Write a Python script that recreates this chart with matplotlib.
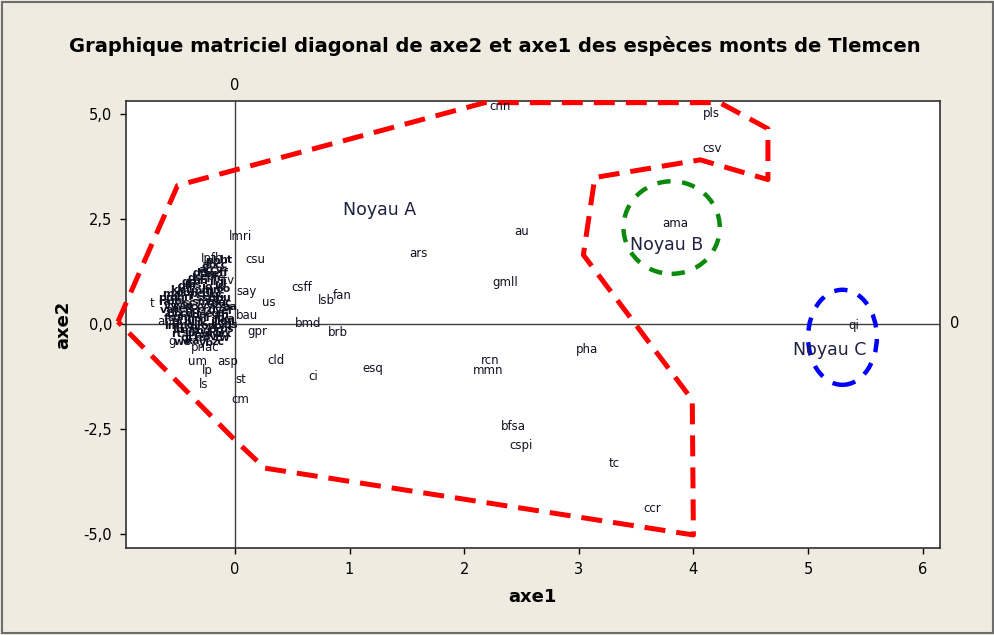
import matplotlib
matplotlib.use("Agg")
import matplotlib.pyplot as plt
from matplotlib.patches import Ellipse, Rectangle

# ---- species scores on the first two axes ----
species = ["cnn", "pls", "csv", "ama", "au", "ars", "gmll", "lmri", "csu",
           "say", "us", "bau", "gpr", "csff", "lsb", "fan", "bmd", "brb",
           "cld", "ci", "esq", "rcn", "mmn", "pha", "bfsa", "cspi", "tc",
           "ccr", "qi", "t", "an", "g", "pnac", "um", "asp", "lp", "ls",
           "st", "cm", "Ipfh", "ctv"]
axe1 = [2.31, 4.16, 4.16, 3.84, 2.50, 1.60, 2.36, 0.05, 0.18,
        0.10, 0.30, 0.11, 0.20, 0.58, 0.80, 0.94, 0.64, 0.90,
        0.36, 0.68, 1.20, 2.23, 2.21, 3.07, 2.43, 2.50, 3.31,
        3.64, 5.40, -0.72, -0.61, -0.55, -0.26, -0.33, -0.06, -0.24, -0.27,
        0.05, 0.05, -0.20, -0.08]
axe2 = [5.17, 5.00, 4.17, 2.38, 2.19, 1.67, 0.98, 2.07, 1.52,
        0.76, 0.50, 0.21, -0.19, 0.86, 0.55, 0.67, 0.02, -0.21,
        -0.88, -1.24, -1.07, -0.86, -1.10, -0.62, -2.43, -2.90, -3.33,
        -4.40, -0.05, 0.48, 0.05, -0.43, -0.57, -0.90, -0.90, -1.10, -1.45,
        -1.33, -1.81, 1.55, 1.02]

# dense group of species near the origin
group_names = ["ph", "ht",
               "ac", "cv",
               "ds", "ep", "fc",
               "gl", "hs", "jo", "lc",
               "ma", "ob", "pc", "pl", "qc",
               "ra", "rs", "sc", "sm", "tp", "uc",
               "va", "ae", "bc", "cr", "dv", "ef",
               "fs", "gm", "hp", "il", "jc", "ka",
               "lm", "mo", "nr", "op", "pr", "qs",
               "rt", "su", "tv", "uw", "vx",
               "we", "xa", "yb", "zc",
               "ab", "cc",
               "dd", "ee", "ff",
               "gg", "hh", "ii", "jj",
               "kk", "ll", "mm", "nn", "oo",
               "pp", "qq", "rr", "ss", "tt", "uu",
               "vv", "ww", "xx", "yy", "zz", "aa",
               "bb", "cd", "de", "eg", "fh",
               "gi", "hj", "ik", "jl", "km",
               "ln", "mp", "nq", "or", "ps",
               "qt", "ru", "sv", "tw"]
group_axe1 = [-0.19, -0.08,
              -0.26, -0.16,
              -0.35, -0.24, -0.14,
              -0.45, -0.35, -0.24, -0.14,
              -0.55, -0.45, -0.34, -0.24, -0.15,
              -0.61, -0.51, -0.40, -0.30, -0.19, -0.09,
              -0.59, -0.49, -0.38, -0.28, -0.17, -0.07,
              -0.57, -0.46, -0.36, -0.25, -0.14, -0.06,
              -0.55, -0.44, -0.34, -0.23, -0.13, -0.04,
              -0.51, -0.40, -0.30, -0.19, -0.09,
              -0.46, -0.36, -0.25, -0.15,
              -0.22, -0.12,
              -0.30, -0.20, -0.10,
              -0.40, -0.30, -0.19, -0.10,
              -0.50, -0.40, -0.29, -0.19, -0.10,
              -0.60, -0.50, -0.40, -0.29, -0.19, -0.10,
              -0.56, -0.45, -0.35, -0.24, -0.13, -0.04,
              -0.53, -0.42, -0.31, -0.20, -0.10,
              -0.50, -0.40, -0.29, -0.18, -0.08,
              -0.50, -0.39, -0.28, -0.17, -0.07,
              -0.42, -0.31, -0.21, -0.11]
group_axe2 = [1.50, 1.52,
              1.29, 1.27,
              1.10, 1.12, 1.08,
              0.90, 0.92, 0.88, 0.90,
              0.71, 0.73, 0.70, 0.72, 0.69,
              0.52, 0.54, 0.50, 0.53, 0.51, 0.49,
              0.33, 0.35, 0.31, 0.34, 0.32, 0.30,
              0.14, 0.16, 0.12, 0.15, 0.13, 0.11,
              -0.05, -0.03, -0.07, -0.04, -0.06, -0.02,
              -0.24, -0.22, -0.26, -0.23, -0.25,
              -0.43, -0.41, -0.45, -0.42,
              1.40, 1.41,
              1.20, 1.19, 1.21,
              1.00, 1.01, 0.99, 1.00,
              0.80, 0.81, 0.79, 0.80, 0.82,
              0.62, 0.61, 0.63, 0.62, 0.60, 0.61,
              0.42, 0.43, 0.41, 0.42, 0.44, 0.40,
              0.23, 0.24, 0.22, 0.23, 0.21,
              0.04, 0.05, 0.03, 0.04, 0.06,
              -0.15, -0.14, -0.16, -0.15, -0.13,
              -0.33, -0.34, -0.32, -0.33]

# ---- group outlines ----
hull_a_x = [-1.02, -0.50, 2.18, 4.23, 4.65, 4.65, 4.06, 3.14, 3.04, 3.99, 4.00, 0.26, 0.00, -1.02]
hull_a_y = [0.05, 3.29, 5.26, 5.26, 4.64, 3.43, 3.90, 3.48, 1.64, -1.81, -5.02, -3.43, -2.76, 0.05]
core_b = {"x": 3.81, "y": 2.29, "w": 0.84, "h": 2.20}
core_c = {"x": 5.30, "y": -0.32, "w": 0.60, "h": 2.26}
core_labels = ["Noyau A", "Noyau B", "Noyau C"]
core_label_x = [1.26, 3.77, 5.19]
core_label_y = [2.70, 1.88, -0.62]

xticks = [0, 1, 2, 3, 4, 5, 6]
yticks = [-5.0, -2.5, 0.0, 2.5, 5.0]
ytick_labels = ["-5,0", "-2,5", "0,0", "2,5", "5,0"]

bg = "#EFEBE0"
fig = plt.figure(figsize=(9.95, 6.35), dpi=100, facecolor=bg)
fig.patches.append(Rectangle((0.002, 0.003), 0.996, 0.994, transform=fig.transFigure,
                             fill=False, edgecolor="#6E6E6E", linewidth=1.5))
ax = fig.add_axes([0.1266, 0.137, 0.818, 0.704])
ax.set_facecolor("white")
ax.set_xlim(-0.95, 6.15)
ax.set_ylim(-5.33, 5.30)

ax.axvline(0, color="#404040", linewidth=1.0, zorder=1)
ax.axhline(0, color="#404040", linewidth=1.0, zorder=1)

ax.plot(hull_a_x, hull_a_y, color="#FF0000", linewidth=3.6,
        linestyle=(0, (4.2, 2.2)), solid_capstyle="butt", zorder=3, clip_on=False)
ax.add_patch(Ellipse((core_b["x"], core_b["y"]), core_b["w"], core_b["h"], fill=False,
                     edgecolor="#0A8A0A", linewidth=3.2, linestyle=(0, (3.0, 2.6)), zorder=3))
ax.add_patch(Ellipse((core_c["x"], core_c["y"]), core_c["w"], core_c["h"], fill=False,
                     edgecolor="#0000FF", linewidth=3.2, linestyle=(0, (3.0, 2.6)), zorder=3))

label_color = "#101020"
for name, x, y in zip(species, axe1, axe2):
    ax.text(x, y, name, fontsize=8.5, ha="center", va="center", color=label_color, zorder=4)
for name, x, y in zip(group_names, group_axe1, group_axe2):
    ax.text(x, y, name, fontsize=8, ha="center", va="center", color=label_color,
            fontweight="bold", zorder=4)
for name, x, y in zip(core_labels, core_label_x, core_label_y):
    ax.text(x, y, name, fontsize=12.5, ha="center", va="center", color="#202040", zorder=4)

ax.set_xticks(xticks)
ax.set_xticklabels([str(t) for t in xticks])
ax.set_yticks(yticks)
ax.set_yticklabels(ytick_labels)
ax.tick_params(direction="out", length=4, width=1, labelsize=10.5, colors="black", pad=6)
for sp in ax.spines.values():
    sp.set_linewidth(1.2)
    sp.set_color("#303030")

ax.text(0, 1.018, "0", transform=ax.get_xaxis_transform(), ha="center", va="bottom", fontsize=10.5)
ax.text(1.012, 0, "0", transform=ax.get_yaxis_transform(), ha="left", va="center", fontsize=10.5)

ax.set_xlabel("axe1", fontsize=13, fontweight="bold", labelpad=8)
ax.set_ylabel("axe2", fontsize=13, fontweight="bold", labelpad=8)
fig.text(0.497, 0.928, "Graphique matriciel diagonal de axe2 et axe1 des espèces monts de Tlemcen",
         ha="center", va="center", fontsize=14, fontweight="bold")

fig.savefig("out.png", dpi=100, facecolor=bg)
